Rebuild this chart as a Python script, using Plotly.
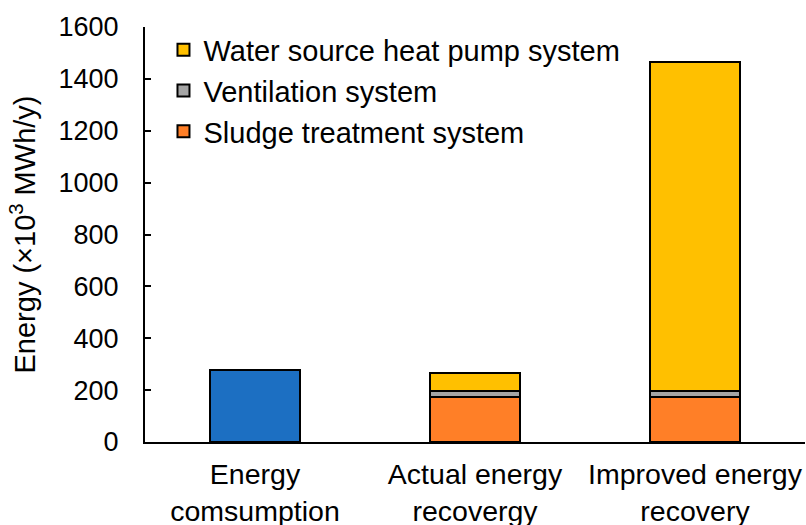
import plotly.graph_objects as go

categories = ["Energy<br>comsumption", "Actual energy<br>recovergy", "Improved energy<br>recovery"]
consumption = [278, None, None]
sludge = [None, 175, 175]
ventilation = [None, 20, 20]
heat_pump = [None, 72, 1272]
y_ticks = [0, 200, 400, 600, 800, 1000, 1200, 1400, 1600]

FONT = "Arial, Liberation Sans, sans-serif"
line = dict(color="black", width=2)

fig = go.Figure()
fig.add_trace(go.Bar(x=categories, y=consumption, name="Energy consumption",
                     marker=dict(color="#1C6FC2", line=line), showlegend=False))
fig.add_trace(go.Bar(x=categories, y=sludge, name="Sludge treatment system",
                     marker=dict(color="#FF7F27", line=line), legendgroup="a"))
fig.add_trace(go.Bar(x=categories, y=ventilation, name="Ventilation system",
                     marker=dict(color="#A5A5A5", line=line), legendgroup="b"))
fig.add_trace(go.Bar(x=categories, y=heat_pump, name="Water source heat pump system",
                     marker=dict(color="#FFC000", line=line), legendgroup="c"))

fig.update_layout(
    width=806, height=525,
    barmode="stack", bargap=0.595,
    plot_bgcolor="white", paper_bgcolor="white",
    margin=dict(l=145, r=1, t=27, b=83),
    font=dict(family=FONT, size=27, color="black"),
    legend=dict(x=0.028, y=1.006, xanchor="left", yanchor="top",
                traceorder="reversed", tracegroupgap=13,
                font=dict(size=29), bgcolor="rgba(0,0,0,0)"),
)
fig.update_xaxes(showline=True, linecolor="black", linewidth=2, ticks="",
                 tickfont=dict(size=28.5), automargin=False, ticklabelstandoff=6)
fig.update_yaxes(range=[0, 1600], tickvals=y_ticks, showline=True, linecolor="black",
                 linewidth=2, ticks="inside", ticklen=6, tickcolor="black", tickwidth=2,
                 showgrid=False, zeroline=False, tickfont=dict(size=27), automargin=True,
                 ticklabelstandoff=19,
                 title=dict(text="Energy (×10<sup>3</sup> MWh/y)", font=dict(size=29), standoff=14))

fig.write_html("out.html", config={"displayModeBar": False},
               post_script="document.body.style.margin='0';")
